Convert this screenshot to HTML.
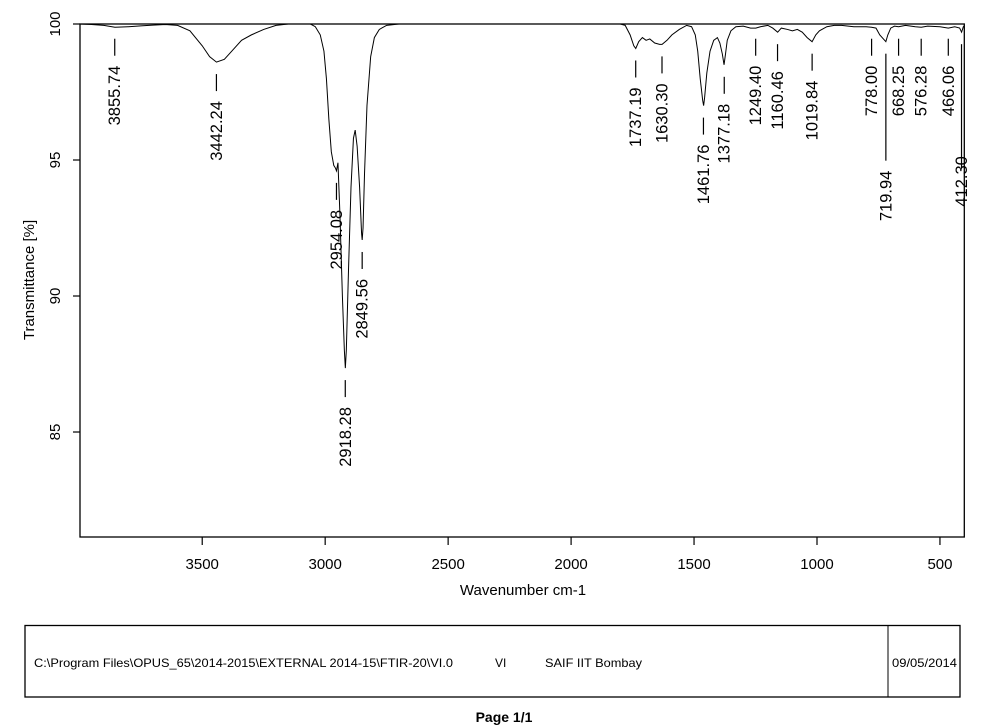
<!DOCTYPE html>
<html><head><meta charset="utf-8"><style>
html,body{margin:0;padding:0;background:#fff;}
svg{display:block;font-family:"Liberation Sans",Arial,sans-serif;}
</style></head><body>
<svg id="chart" width="992" height="725" viewBox="0 0 992 725" xmlns="http://www.w3.org/2000/svg">
<rect x="80" y="24" width="884.3" height="513" fill="none" stroke="#000" stroke-width="1.3"/>
<g id="yaxis"></g>
<g id="xaxis"></g>
<path id="spectrum" fill="none" stroke="#000" stroke-width="1"/>
<g id="peaks"></g>
<text transform="translate(34,280) rotate(-90)" text-anchor="middle" font-size="15">Transmittance [%]</text>
<text x="523" y="595" text-anchor="middle" font-size="15">Wavenumber cm-1</text>
<g>
<rect x="25" y="625.5" width="935" height="71.5" fill="none" stroke="#000" stroke-width="1.3"/>
<line x1="888" y1="625.5" x2="888" y2="697" stroke="#000" stroke-width="1"/>
<text x="34" y="667" font-size="12" textLength="419" lengthAdjust="spacingAndGlyphs">C:\Program Files\OPUS_65\2014-2015\EXTERNAL 2014-15\FTIR-20\VI.0</text>
<text x="495" y="667" font-size="12">VI</text>
<text x="545" y="667" font-size="12" textLength="97" lengthAdjust="spacingAndGlyphs">SAIF IIT Bombay</text>
<text x="892" y="667" font-size="12" textLength="65" lengthAdjust="spacingAndGlyphs">09/05/2014</text>
</g>
<text x="504" y="722" text-anchor="middle" font-size="14" font-weight="bold">Page 1/1</text>
</svg>
<script>
const waveNumbers=[4000,3950,3900,3855,3800,3750,3700,3650,3600,3550,3500,3470,3442,3410,3380,3340,3300,3250,3200,3150,3060,3040,3020,3005,2995,2985,2975,2965,2958,2954,2948,2940,2930,2922,2918,2914,2905,2895,2885,2878,2870,2860,2852,2849.5,2846,2840,2830,2815,2800,2780,2750,2700,1800,1780,1760,1745,1737,1725,1710,1695,1680,1660,1640,1630,1610,1590,1560,1530,1510,1495,1485,1475,1465,1461,1457,1448,1435,1420,1405,1395,1385,1378,1372,1365,1350,1330,1300,1270,1249,1230,1200,1180,1160,1145,1120,1100,1080,1060,1040,1020,1005,990,960,930,900,850,800,778,760,745,730,720,712,700,685,668,640,600,576,550,500,466,440,420,412,405,400];
const transmittance=[100,99.98,99.95,99.88,99.9,99.93,99.96,99.98,99.95,99.75,99.2,98.8,98.6,98.7,99.0,99.4,99.6,99.8,99.95,100,100,99.9,99.6,99.0,98.0,96.5,95.3,94.8,94.7,94.6,94.9,93,90,88,87.35,88,91,94,95.8,96.1,95.5,94,92.3,92.06,92.5,94.5,97,98.8,99.5,99.8,99.95,100,100,99.95,99.6,99.2,99.1,99.35,99.5,99.4,99.45,99.3,99.25,99.25,99.4,99.6,99.8,99.95,99.9,99.6,99.0,98.0,97.2,97.0,97.3,98.2,99.0,99.4,99.5,99.3,98.9,98.5,98.9,99.4,99.75,99.9,99.92,99.85,99.85,99.9,99.95,99.85,99.7,99.85,99.8,99.75,99.8,99.7,99.5,99.35,99.6,99.75,99.9,99.95,99.95,99.9,99.9,99.88,99.85,99.6,99.45,99.35,99.6,99.85,99.92,99.9,99.95,99.9,99.88,99.92,99.9,99.85,99.9,99.85,99.7,99.9,99.95];
const peakWaves=[3855.74,3442.24,2954.08,2918.28,2849.56,1737.19,1630.30,1461.76,1377.18,1249.40,1160.46,1019.84,778.00,719.94,668.25,576.28,466.06,412.30];
const peakValues=[99.9,98.6,94.6,87.35,92.06,99.1,99.25,97.0,98.5,99.9,99.7,99.35,99.9,99.35,99.9,99.9,99.9,99.7];
const peakLabels=["3855.74","3442.24","2954.08","2918.28","2849.56","1737.19","1630.30","1461.76","1377.18","1249.40","1160.46","1019.84","778.00","719.94","668.25","576.28","466.06","412.30"];
const xTicks=[3500,3000,2500,2000,1500,1000,500];
const yTicks=[100,95,90,85];
// layout: extra drop (px) for staggered labels
const labelDrop=[0,0,0,0,0,0,0,0,0,0,0,0,0,90,0,0,0,107];

const X0=80,X1=964.3,W0=3997,W1=401,Y0=24,Y1=537,T0=100,T1=81.14;
const sx=w=>X0+(W0-w)/(W0-W1)*(X1-X0);
const sy=t=>Y0+(T0-t)/(T0-T1)*(Y1-Y0);
const NS="http://www.w3.org/2000/svg";
function mk(tag,attrs,parent,txt){const e=document.createElementNS(NS,tag);for(const k in attrs)e.setAttribute(k,attrs[k]);if(txt!==undefined)e.textContent=txt;parent.appendChild(e);return e;}

let d="";
waveNumbers.forEach((w,i)=>{d+=(i?"L":"M")+sx(w).toFixed(2)+","+sy(transmittance[i]).toFixed(2);});
document.getElementById('spectrum').setAttribute('d',d);

const ya=document.getElementById('yaxis');
yTicks.forEach(v=>{
  const y=sy(v);
  const l=mk('line',{x1:73,x2:80,y1:y,y2:y,stroke:'#000','stroke-width':1.2},ya);
  
  
  const t=mk('text',{transform:`translate(60,${y}) rotate(-90)`,'text-anchor':'middle','font-size':15},ya,String(v));
  
  
});
const xa=document.getElementById('xaxis');
xTicks.forEach(v=>{
  const x=sx(v);
  const l=mk('line',{x1:x,x2:x,y1:537,y2:545,stroke:'#000','stroke-width':1.2},xa);
  
  
  const t=mk('text',{x:x,y:569,'text-anchor':'middle','font-size':15},xa,String(v));
  
  
});
const pg=document.getElementById('peaks');
peakWaves.forEach((w,i)=>{
  const x=sx(w),py=sy(peakValues[i]);
  const a=py+12,b=py+29+labelDrop[i];
  const l=mk('line',{x1:x,x2:x,y1:a,y2:b,stroke:'#000','stroke-width':1.2},pg);
  
  
  const ty=(i===17)?b-12:b+10;
  const t=mk('text',{transform:`translate(${x+5.5},${ty}) rotate(-90)`,'text-anchor':'end','font-size':16.5},pg,peakLabels[i]);
  
  
});
</script>
</body></html>
